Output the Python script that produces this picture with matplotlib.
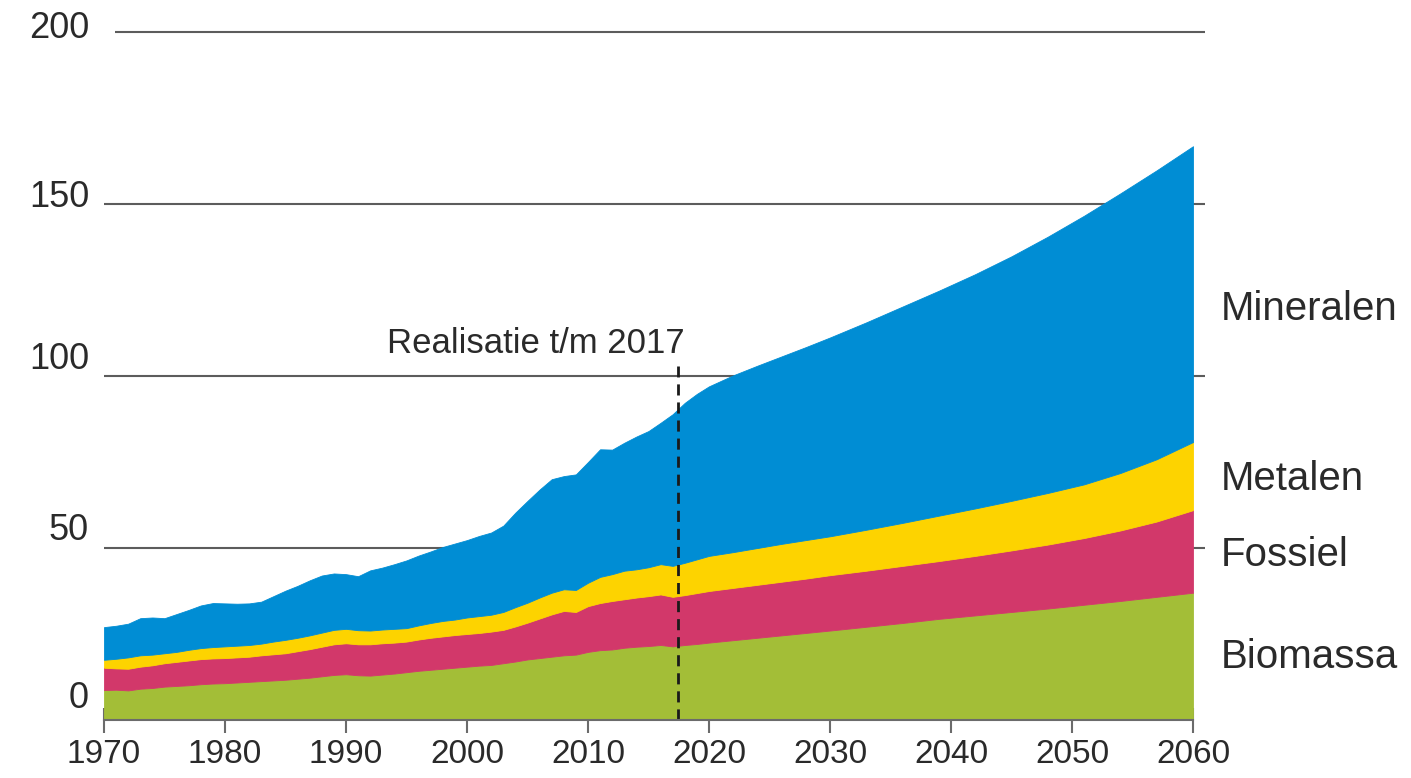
import matplotlib
matplotlib.use("Agg")
import matplotlib.pyplot as plt
import numpy as np

# ---- data (mld ton) ----
years = [1970, 1971, 1972, 1973, 1974, 1975, 1976, 1977, 1978, 1979,
         1980, 1981, 1982, 1983, 1984, 1985, 1986, 1987, 1988, 1989,
         1990, 1991, 1992, 1993, 1994, 1995, 1996, 1997, 1998, 1999,
         2000, 2001, 2002, 2003, 2004, 2005, 2006, 2007, 2008, 2009,
         2010, 2011, 2012, 2013, 2014, 2015, 2016, 2017, 2018, 2019,
         2020, 2022, 2024, 2026, 2028, 2030, 2033, 2036, 2039, 2042,
         2045, 2048, 2051, 2054, 2057, 2060]

biomassa = [8.7, 8.8, 8.6, 9.1, 9.3, 9.7, 9.9, 10.1, 10.4, 10.6,
            10.7, 10.9, 11.1, 11.3, 11.5, 11.7, 12.0, 12.3, 12.7, 13.1,
            13.3, 13.0, 12.9, 13.2, 13.5, 13.9, 14.3, 14.6, 14.9, 15.2,
            15.5, 15.8, 16.0, 16.5, 17.0, 17.6, 18.0, 18.4, 18.8, 19.0,
            19.8, 20.3, 20.5, 21.0, 21.3, 21.5, 21.8, 21.4, 21.8, 22.1,
            22.5, 23.2, 23.9, 24.6, 25.3, 26.0, 27.1, 28.2, 29.4, 30.4,
            31.4, 32.4, 33.5, 34.6, 35.8, 37.0]

fossiel = [6.5, 6.2, 6.3, 6.4, 6.6, 6.8, 7.0, 7.2, 7.3, 7.3,
           7.3, 7.3, 7.3, 7.5, 7.6, 7.7, 8.0, 8.3, 8.6, 8.9,
           9.0, 9.0, 9.1, 9.1, 9.0, 8.9, 9.1, 9.3, 9.4, 9.5,
           9.5, 9.5, 9.7, 9.7, 10.2, 10.7, 11.5, 12.3, 12.9, 12.4,
           13.3, 13.7, 14.1, 14.1, 14.3, 14.5, 14.7, 14.4, 14.5, 14.8,
           15.0, 15.2, 15.4, 15.6, 15.8, 16.1, 16.3, 16.6, 16.8, 17.3,
           17.9, 18.6, 19.4, 20.5, 21.9, 24.0]

metalen = [2.3, 2.8, 3.3, 3.3, 3.1, 2.9, 2.9, 3.1, 3.2, 3.3,
           3.4, 3.4, 3.4, 3.4, 3.7, 3.9, 3.9, 4.0, 4.1, 4.2,
           4.2, 4.1, 4.0, 4.0, 4.0, 3.9, 4.1, 4.3, 4.5, 4.5,
           4.8, 4.9, 4.9, 5.2, 5.6, 5.8, 6.1, 6.3, 6.3, 6.4,
           6.8, 7.6, 7.8, 8.3, 8.2, 8.4, 8.8, 9.0, 9.4, 9.8,
           10.2, 10.4, 10.7, 11.0, 11.2, 11.3, 11.9, 12.5, 13.2, 13.8,
           14.4, 15.0, 15.6, 16.7, 18.1, 19.8]

mineralen = [9.5, 9.6, 9.8, 10.8, 10.8, 10.2, 11.0, 11.6, 12.4, 12.8,
             12.5, 12.2, 12.1, 12.2, 13.2, 14.3, 15.1, 16.0, 16.6, 16.4,
             15.9, 15.7, 17.5, 18.0, 18.8, 19.7, 20.3, 20.8, 21.5, 22.1,
             22.5, 23.3, 23.9, 25.1, 27.5, 29.6, 31.4, 33.0, 32.9, 33.6,
             35.1, 37.1, 36.2, 37.2, 38.6, 39.6, 41.1, 44.1, 46.5, 48.1,
             49.3, 51.4, 53.0, 54.5, 56.1, 57.8, 60.3, 62.9, 65.4, 68.1,
             71.1, 74.5, 78.1, 81.3, 84.0, 86.0]

series_names = ["Biomassa", "Fossiel", "Metalen", "Mineralen"]
colors = ["#a3be37", "#d2386a", "#fdd300", "#008dd4"]

yticks = [0, 50, 100, 150, 200]
xticks = [1970, 1980, 1990, 2000, 2010, 2020, 2030, 2040, 2050, 2060]
realisatie_year = 2017.45
realisatie_label = "Realisatie t/m 2017"

FONT = ["Liberation Sans", "DejaVu Sans"]
plt.rcParams["font.family"] = FONT
TXT = "#2a2a2a"

fig = plt.figure(figsize=(14.11, 7.78), dpi=100)
ax = fig.add_axes([104 / 1411, 58 / 778, 1089 / 1411, 688 / 778])
ax.set_xlim(1970, 2060)
ax.set_ylim(0, 200)

# grid lines (behind areas)
for v in yticks[1:]:
    x0 = 1970.9 if v == 200 else 1970
    ax.plot([x0, 2061.0], [v, v], color="#5c5c5c", lw=1.5, zorder=1,
            clip_on=False, solid_capstyle="butt")

layers = [biomassa, fossiel, metalen, mineralen]
ax.stackplot(years, *layers, colors=colors, labels=series_names,
             edgecolor="face", linewidth=0.6, zorder=2)

# dashed realisation line
ax.plot([realisatie_year, realisatie_year], [0, 103], color="#1a1a1a",
        lw=2, ls=(0, (4, 2.5)), zorder=4)
ax.text(2018.0, 106.7, realisatie_label, ha="right", va="baseline",
        fontsize=25, color=TXT, zorder=5)

# right-hand series labels
label_y = [15.1, 44.8, 66.9, 116.4]
for name, yv in zip(series_names, label_y):
    ax.text(2062.3, yv, name, ha="left", va="baseline", fontsize=29,
            color=TXT, clip_on=False)

# y labels (slightly raised above their lines)
y_offsets = [22, 18, 17, 7, 4]
ax.set_yticks([])
for v, off in zip(yticks, y_offsets):
    ax.annotate(str(v), xy=(0, v), xycoords=("axes fraction", "data"),
                xytext=(-15, off), textcoords="offset pixels",
                ha="right", va="center", fontsize=26, color=TXT,
                annotation_clip=False)

# x axis
for s in ["top", "right", "left"]:
    ax.spines[s].set_visible(False)
ax.spines["bottom"].set_color("#6b6b6b")
ax.spines["bottom"].set_linewidth(1.5)
ax.spines["bottom"].set_zorder(6)
ax.set_xticks(xticks)
ax.set_xticklabels([str(x) for x in xticks], fontsize=24, color=TXT)
ax.tick_params(axis="x", direction="inout", length=18, width=1.5,
               color="#6b6b6b", pad=5)

fig.savefig("out.png", dpi=100, facecolor="white")
